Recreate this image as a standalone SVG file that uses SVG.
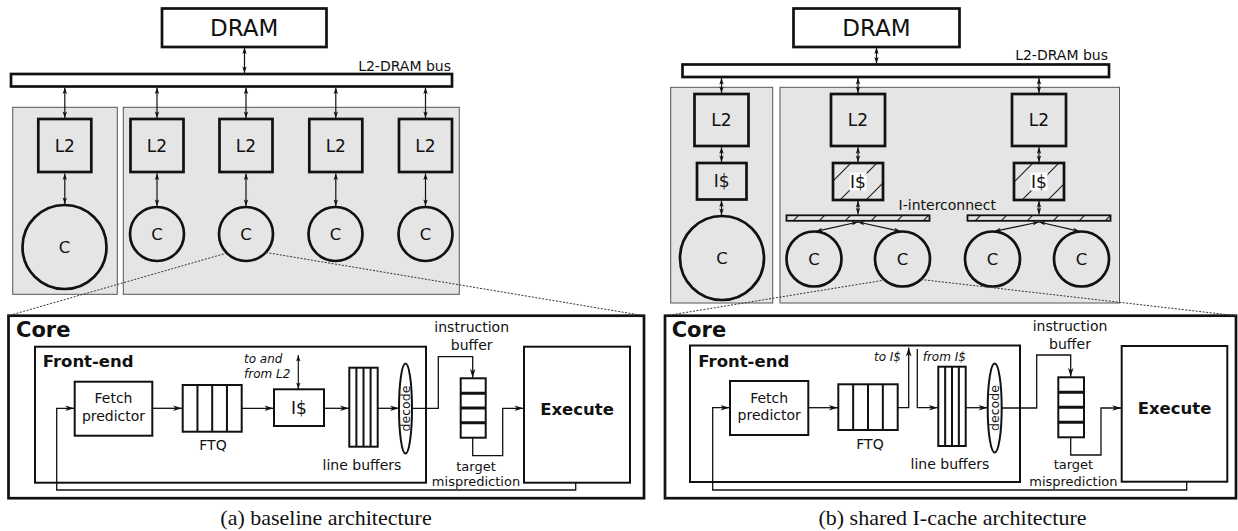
<svg xmlns="http://www.w3.org/2000/svg" width="1238" height="531" viewBox="0 0 1238 531">
<style>
  .t{font-family:"DejaVu Sans","Liberation Sans",sans-serif;fill:#111}
  .bd{font-weight:bold}
  .it{font-style:italic}
  .cap{font-family:"Liberation Serif",serif;font-size:22px;fill:#111}
  .grp{fill:#e5e5e5;stroke:#555;stroke-width:1}
  .thick{fill:none;stroke:#111;stroke-width:2.7}
  .box{fill:#fff;stroke:#111;stroke-width:2}
  .boxg{fill:none;stroke:#111;stroke-width:2}
  .wire{fill:none;stroke:#111;stroke-width:1.3}
  .dbl{fill:none;stroke:#111;stroke-width:1.2;marker-start:url(#sm);marker-end:url(#sm)}
  .flow{fill:none;stroke:#111;stroke-width:1.3;marker-end:url(#ah)}
  .zoom{fill:none;stroke:#333;stroke-width:1;stroke-dasharray:2 1.5}
  .div{stroke:#111;stroke-width:2}
  .divh{stroke:#111;stroke-width:3}
</style>
<defs>
  <marker id="ah" markerUnits="userSpaceOnUse" markerWidth="10" markerHeight="8" refX="9" refY="4" orient="auto" overflow="visible">
    <path d="M0,1.2 L9,4 L0,6.8 L2.6,4 z" fill="#111"/>
  </marker>
  <marker id="sm" markerUnits="userSpaceOnUse" markerWidth="7" markerHeight="6" refX="6.5" refY="3" orient="auto-start-reverse" overflow="visible">
    <path d="M0,0.8 L6.5,3 L0,5.2 L1.6,3 z" fill="#111"/>
  </marker>
  <pattern id="hatch" patternUnits="userSpaceOnUse" width="26" height="26">
    <path d="M-2,2 L2,-2 M0,26 L26,0 M24,28 L28,24" stroke="#222" stroke-width="1.2"/>
  </pattern>
</defs>

<!-- ===== (a) baseline architecture ===== -->
<g id="a-clusters">
  <rect class="grp" x="12.7" y="107.3" width="104.6" height="187"/>
  <rect class="grp" x="123.3" y="107.3" width="336" height="187"/>
</g>
<g id="a-dram">
  <rect class="thick" x="162" y="8.5" width="164.5" height="38.5" style="fill:#fff"/>
  <text class="t" x="244.2" y="36" font-size="23" text-anchor="middle">DRAM</text>
</g>
<g id="a-bus">
  <rect class="thick" x="11" y="74" width="441" height="12.5" style="fill:#fff"/>
  <text class="t" x="451" y="70.5" font-size="14" text-anchor="end">L2-DRAM bus</text>
</g>
<g id="a-l2" font-size="17">
  <rect class="thick" x="38.3" y="119" width="53" height="53"/>
  <rect class="thick" x="130.5" y="119" width="53" height="53"/>
  <rect class="thick" x="219.5" y="119" width="53" height="53"/>
  <rect class="thick" x="309.3" y="119" width="53" height="53"/>
  <rect class="thick" x="399" y="119" width="53" height="53"/>
  <text class="t" x="64.8" y="151.8" text-anchor="middle">L2</text>
  <text class="t" x="157" y="151.8" text-anchor="middle">L2</text>
  <text class="t" x="246" y="151.8" text-anchor="middle">L2</text>
  <text class="t" x="335.8" y="151.8" text-anchor="middle">L2</text>
  <text class="t" x="425.5" y="151.8" text-anchor="middle">L2</text>
</g>
<g id="a-cores" font-size="16.5">
  <circle class="thick" cx="64.5" cy="247" r="42"/>
  <circle class="thick" cx="157" cy="234" r="27"/>
  <circle class="thick" cx="246" cy="234" r="27"/>
  <circle class="thick" cx="335.5" cy="234" r="27"/>
  <circle class="thick" cx="425.5" cy="234" r="27"/>
  <text class="t" x="64.5" y="253" text-anchor="middle">C</text>
  <text class="t" x="157" y="240" text-anchor="middle">C</text>
  <text class="t" x="246" y="240" text-anchor="middle">C</text>
  <text class="t" x="335.5" y="240" text-anchor="middle">C</text>
  <text class="t" x="425.5" y="240" text-anchor="middle">C</text>
</g>

<!-- ===== (b) shared I-cache architecture ===== -->
<g id="b-clusters">
  <rect class="grp" x="670.7" y="87.3" width="102" height="215.7"/>
  <rect class="grp" x="780" y="87.3" width="339.5" height="215.7"/>
</g>
<g id="b-dram">
  <rect class="thick" x="793.5" y="8.5" width="166" height="38.5" style="fill:#fff"/>
  <text class="t" x="876.5" y="36" font-size="23" text-anchor="middle">DRAM</text>
</g>
<g id="b-bus">
  <rect class="thick" x="682.5" y="64.5" width="426.5" height="12.5" style="fill:#fff"/>
  <text class="t" x="1108" y="60" font-size="14" text-anchor="end">L2-DRAM bus</text>
</g>
<g id="b-l2" font-size="17">
  <rect class="thick" x="694.5" y="94" width="54" height="52"/>
  <rect class="thick" x="831" y="94" width="54" height="52"/>
  <rect class="thick" x="1012" y="94" width="54" height="52"/>
  <text class="t" x="721.5" y="126.2" text-anchor="middle">L2</text>
  <text class="t" x="858" y="126.2" text-anchor="middle">L2</text>
  <text class="t" x="1039" y="126.2" text-anchor="middle">L2</text>
</g>
<g id="b-icache" font-size="17">
  <rect class="thick" x="697" y="163" width="49.5" height="36.5"/>
  <text class="t" x="721.7" y="187.2" text-anchor="middle">I$</text>
  <rect x="833" y="163" width="50" height="37" fill="url(#hatch)"/>
  <rect class="thick" x="833" y="163" width="50" height="37"/>
  <rect x="849.5" y="172.5" width="17" height="18" fill="#fff"/>
  <text class="t" x="858" y="187.7" text-anchor="middle">I$</text>
  <rect x="1014" y="163" width="50" height="37" fill="url(#hatch)"/>
  <rect class="thick" x="1014" y="163" width="50" height="37"/>
  <rect x="1030.5" y="172.5" width="17" height="18" fill="#fff"/>
  <text class="t" x="1039" y="187.7" text-anchor="middle">I$</text>
</g>
<g id="b-interconnect">
  <rect x="786.5" y="215.3" width="143" height="5.5" fill="url(#hatch)"/>
  <rect x="786.5" y="215.3" width="143" height="5.5" fill="none" stroke="#111" stroke-width="1.8"/>
  <rect x="967.5" y="215.3" width="143" height="5.5" fill="url(#hatch)"/>
  <rect x="967.5" y="215.3" width="143" height="5.5" fill="none" stroke="#111" stroke-width="1.8"/>
  <text class="t" x="898.6" y="209.5" font-size="14">I-interconnect</text>
</g>
<g id="b-cores" font-size="16.5">
  <circle class="thick" cx="722" cy="258" r="42"/>
  <circle class="thick" cx="814" cy="259" r="27.5"/>
  <circle class="thick" cx="902.5" cy="259" r="27.5"/>
  <circle class="thick" cx="992.5" cy="259" r="27.5"/>
  <circle class="thick" cx="1081.5" cy="259" r="27.5"/>
  <text class="t" x="722" y="264" text-anchor="middle">C</text>
  <text class="t" x="814" y="265" text-anchor="middle">C</text>
  <text class="t" x="902.5" y="265" text-anchor="middle">C</text>
  <text class="t" x="992.5" y="265" text-anchor="middle">C</text>
  <text class="t" x="1081.5" y="265" text-anchor="middle">C</text>
</g>

<!-- ===== core detail (a) ===== -->
<g id="a-core">
  <rect class="thick" x="8.5" y="315.7" width="635.5" height="182.5"/>
  <text class="t bd" x="16" y="337" font-size="21">Core</text>
</g>
<g id="a-frontend">
  <rect class="boxg" x="35" y="346.7" width="391" height="136"/>
  <text class="t bd" x="42.7" y="366.7" font-size="16.5">Front-end</text>
</g>
<g id="a-fetch" font-size="14">
  <rect class="boxg" x="74.7" y="381.7" width="77.6" height="54"/>
  <text class="t" x="113.5" y="403.4" text-anchor="middle">Fetch</text>
  <text class="t" x="113.5" y="420.6" text-anchor="middle">predictor</text>
</g>
<g id="a-ftq">
  <rect class="boxg" x="182.7" y="385" width="59" height="46.7"/>
  <path class="div" d="M197.45,385 V431.7 M212.2,385 V431.7 M226.95,385 V431.7"/>
  <text class="t" x="213" y="450" font-size="14" text-anchor="middle">FTQ</text>
</g>
<g id="a-icache">
  <rect class="boxg" x="274" y="389.3" width="50" height="36.7"/>
  <text class="t" x="299" y="414" font-size="17" text-anchor="middle">I$</text>
  <text class="t it" x="244" y="363" font-size="12">to and</text>
  <text class="t it" x="244" y="378" font-size="12">from L2</text>
</g>
<g id="a-linebuf">
  <rect class="boxg" x="349.3" y="367.7" width="28.4" height="79"/>
  <path class="div" d="M356.4,367.7 V446.7 M363.5,367.7 V446.7 M370.6,367.7 V446.7"/>
  <text class="t" x="362" y="470" font-size="14" text-anchor="middle">line buffers</text>
</g>
<g id="a-decode">
  <ellipse cx="405.5" cy="408.5" rx="6.5" ry="45" fill="#fff" stroke="#111" stroke-width="2"/>
  <text class="t" transform="translate(405.5,408.5) rotate(-90)" x="0" y="4" font-size="12.5" text-anchor="middle">decode</text>
</g>
<g id="a-ibuf">
  <rect class="boxg" x="460.7" y="378.3" width="25" height="59.4"/>
  <path class="divh" d="M460.7,393.15 H485.7 M460.7,408 H485.7 M460.7,422.85 H485.7"/>
  <text class="t" x="471.7" y="332" font-size="14" text-anchor="middle">instruction</text>
  <text class="t" x="471.7" y="350" font-size="14" text-anchor="middle">buffer</text>
  <text class="t" x="476" y="470.7" font-size="13" text-anchor="middle">target</text>
  <text class="t" x="476" y="486" font-size="13" text-anchor="middle">misprediction</text>
</g>
<g id="a-execute">
  <rect class="boxg" x="524" y="346.7" width="106" height="136"/>
  <text class="t bd" x="577" y="415" font-size="16.5" text-anchor="middle">Execute</text>
</g>

<!-- ===== core detail (b) ===== -->
<g id="b-core">
  <rect class="thick" x="665" y="315.7" width="571" height="182.5"/>
  <text class="t bd" x="671.7" y="337" font-size="21">Core</text>
</g>
<g id="b-frontend">
  <rect class="boxg" x="690" y="345.5" width="330" height="136.5"/>
  <text class="t bd" x="698.3" y="366.7" font-size="16.5">Front-end</text>
</g>
<g id="b-fetch" font-size="14">
  <rect class="boxg" x="730" y="381" width="78.3" height="54"/>
  <text class="t" x="769.2" y="402.7" text-anchor="middle">Fetch</text>
  <text class="t" x="769.2" y="420" text-anchor="middle">predictor</text>
</g>
<g id="b-ftq">
  <rect class="boxg" x="838.3" y="384.3" width="59.4" height="45.7"/>
  <path class="div" d="M853.15,384.3 V430 M868,384.3 V430 M882.85,384.3 V430"/>
  <text class="t" x="870" y="448.5" font-size="14" text-anchor="middle">FTQ</text>
  <text class="t it" x="901" y="360.7" font-size="12" text-anchor="end">to I$</text>
  <text class="t it" x="922.7" y="360.7" font-size="12">from I$</text>
</g>
<g id="b-linebuf">
  <rect class="boxg" x="938.3" y="366.7" width="27.4" height="79.3"/>
  <path class="div" d="M945.15,366.7 V446 M952,366.7 V446 M958.85,366.7 V446"/>
  <text class="t" x="950" y="469.3" font-size="14" text-anchor="middle">line buffers</text>
</g>
<g id="b-decode">
  <ellipse cx="994.7" cy="408" rx="7" ry="44.5" fill="#fff" stroke="#111" stroke-width="2"/>
  <text class="t" transform="translate(994.7,408) rotate(-90)" x="0" y="4" font-size="12.5" text-anchor="middle">decode</text>
</g>
<g id="b-ibuf">
  <rect class="boxg" x="1058.3" y="377.3" width="25.7" height="60"/>
  <path class="divh" d="M1058.3,392.3 H1084 M1058.3,407.3 H1084 M1058.3,422.3 H1084"/>
  <text class="t" x="1070" y="330.7" font-size="14" text-anchor="middle">instruction</text>
  <text class="t" x="1070" y="349" font-size="14" text-anchor="middle">buffer</text>
  <text class="t" x="1073.4" y="469.3" font-size="13" text-anchor="middle">target</text>
  <text class="t" x="1073.4" y="485.7" font-size="13" text-anchor="middle">misprediction</text>
</g>
<g id="b-execute">
  <rect class="boxg" x="1121.7" y="346" width="105.6" height="135.7"/>
  <text class="t bd" x="1174.5" y="414" font-size="16.5" text-anchor="middle">Execute</text>
</g>

<!-- ===== connectors ===== -->
<g id="connectors">
  <!-- (a) memory side -->
  <line class="dbl" x1="244.5" y1="47.5" x2="244.5" y2="73"/>
  <line class="dbl" x1="64.8" y1="87.5" x2="64.8" y2="118"/>
  <line class="dbl" x1="157" y1="87.5" x2="157" y2="118"/>
  <line class="dbl" x1="246" y1="87.5" x2="246" y2="118"/>
  <line class="dbl" x1="335.8" y1="87.5" x2="335.8" y2="118"/>
  <line class="dbl" x1="425.5" y1="87.5" x2="425.5" y2="118"/>
  <line class="dbl" x1="64.8" y1="173.5" x2="64.8" y2="204"/>
  <line class="dbl" x1="157" y1="173.5" x2="157" y2="206"/>
  <line class="dbl" x1="246" y1="173.5" x2="246" y2="206"/>
  <line class="dbl" x1="335.8" y1="173.5" x2="335.8" y2="206"/>
  <line class="dbl" x1="425.5" y1="173.5" x2="425.5" y2="206"/>
  <!-- (b) memory side -->
  <line class="dbl" x1="876.5" y1="47.5" x2="876.5" y2="63.5"/>
  <line class="dbl" x1="721.5" y1="78" x2="721.5" y2="93"/>
  <line class="dbl" x1="858" y1="78" x2="858" y2="93"/>
  <line class="dbl" x1="1039" y1="78" x2="1039" y2="93"/>
  <line class="dbl" x1="721.5" y1="147.3" x2="721.5" y2="162"/>
  <line class="dbl" x1="858" y1="147.3" x2="858" y2="162"/>
  <line class="dbl" x1="1039" y1="147.3" x2="1039" y2="162"/>
  <line class="dbl" x1="721.5" y1="200.5" x2="721.5" y2="215"/>
  <line class="dbl" x1="858" y1="201" x2="858" y2="214.3"/>
  <line class="dbl" x1="1039" y1="201" x2="1039" y2="214.3"/>
  <line class="dbl" x1="858" y1="222" x2="816" y2="231.3"/>
  <line class="dbl" x1="858" y1="222" x2="900.5" y2="231.3"/>
  <line class="dbl" x1="1039" y1="222" x2="994.5" y2="231.3"/>
  <line class="dbl" x1="1039" y1="222" x2="1079.5" y2="231.3"/>
  <!-- zoom-out guides -->
  <line class="zoom" x1="227" y1="253" x2="8.5" y2="315.7"/>
  <line class="zoom" x1="266" y1="252.5" x2="644" y2="315.7"/>
  <line class="zoom" x1="885" y1="280" x2="666" y2="315.7"/>
  <line class="zoom" x1="921" y1="279.5" x2="1236" y2="315.7"/>
  <!-- (a) pipeline -->
  <path class="flow" d="M152.3,408.3 H182"/>
  <path class="flow" d="M241.7,408.3 H273.5"/>
  <path class="flow" d="M324,408.3 H349"/>
  <path class="flow" d="M377.7,408.3 H399"/>
  <line class="dbl" x1="298.3" y1="389" x2="298.3" y2="355"/>
  <path class="flow" d="M412,408.3 H438.3 V356.7 H472.7 V377.8"/>
  <path class="flow" d="M472.7,437.7 V455.7 H502.7 V408.3 H523.5"/>
  <path class="flow" d="M575.7,482.7 V490 H56.7 V408.3 H74.2"/>
  <!-- (b) pipeline -->
  <path class="flow" d="M808.3,407.7 H837.8"/>
  <path class="flow" d="M897.7,407.7 H908.7 V347.5"/>
  <path class="flow" d="M917.3,349 V407.7 H937.8"/>
  <path class="flow" d="M965.7,407.7 H987.5"/>
  <path class="flow" d="M1001.7,408 H1036.7 V355 H1070.7 V376.8"/>
  <path class="flow" d="M1070.7,437.3 V455 H1101 V408 H1121.2"/>
  <path class="flow" d="M1186.7,481.7 V490 H712.7 V407.7 H729.5"/>
</g>

<g id="captions">
  <text class="cap" x="326" y="525" text-anchor="middle">(a) baseline architecture</text>
  <text class="cap" x="952.5" y="525" text-anchor="middle">(b) shared I-cache architecture</text>
</g>
</svg>
